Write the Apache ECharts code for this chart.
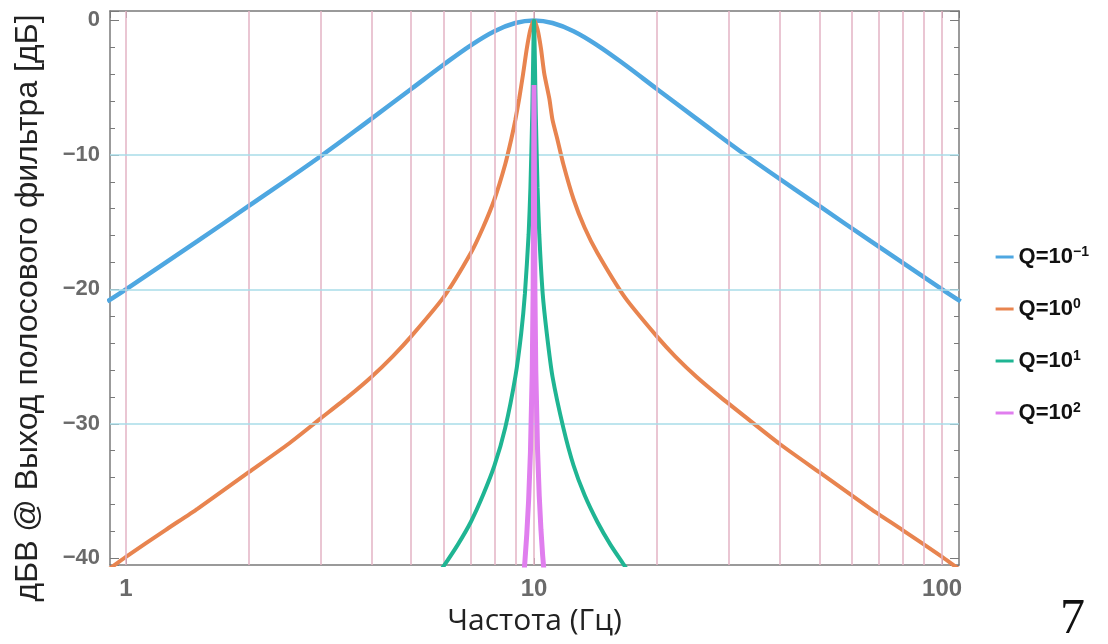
<!DOCTYPE html>
<html>
<head>
<meta charset="utf-8">
<script src="https://cdn.jsdelivr.net/npm/echarts@6/dist/echarts.min.js"></script>
<style>
  html, body { margin: 0; padding: 0; background: #fff; }
  #main { width: 1108px; height: 644px; }
</style>
</head>
<body>
<div id="main"></div>
<script>
// частоты и уровни
var blueF = [0.9, 1, 1.5, 2, 3, 4, 5, 6, 7, 8, 9, 10, 11.1, 12.5, 14.3, 16.7, 20, 25, 33.3, 50, 66.7, 100, 111];
var blueDb = [-20.9, -20.0, -16.4, -13.8, -10.1, -7.3, -5.1, -3.3, -1.85, -0.8, -0.19, 0, -0.19, -0.8, -1.85, -3.3, -5.1, -7.3, -10.1, -13.8, -16.4, -20.0, -20.9];

var orangeF = [0.9, 1, 1.25, 1.5, 2, 2.5, 3, 3.5, 4, 4.5, 5, 6, 7, 7.5, 8, 8.5, 8.8, 9, 9.2, 9.4, 9.6, 9.8, 10, 10.2, 10.4, 10.6, 10.9, 11.1, 11.4, 11.8, 12.5, 13.3, 14.3, 16.7, 20, 22.2, 25, 28.6, 33.3, 40, 50, 66.7, 80, 100, 111];
var orangeDb = [-40.9, -39.9, -37.9, -36.3, -33.6, -31.5, -29.6, -28.0, -26.5, -25.0, -23.5, -20.6, -17.3, -15.4, -13.3, -10.7, -8.8, -7.4, -5.8, -4.0, -2.1, -0.66, 0, -0.66, -2.1, -4.0, -5.8, -7.4, -8.8, -10.7, -13.3, -15.4, -17.3, -20.6, -23.5, -25.0, -26.5, -28.0, -29.6, -31.5, -33.6, -36.3, -37.9, -39.9, -40.9];

var greenF = [5.8, 6, 6.5, 7, 7.5, 8, 8.5, 9, 9.3, 9.5, 9.7, 9.8, 9.9, 10, 10.1, 10.2, 10.3, 10.5, 10.75, 11.1, 11.8, 12.5, 13.3, 14.3, 15.4, 16.7, 17.2];
var greenDb = [-41.2, -40.6, -39.0, -37.3, -35.3, -33.1, -30.3, -26.5, -23.3, -20.3, -15.9, -12.4, -7.0, 0, -7.0, -12.4, -15.9, -20.3, -23.3, -26.5, -30.3, -33.1, -35.3, -37.3, -39.0, -40.6, -41.2];

var violetF = [9.45, 9.5, 9.6, 9.7, 9.8, 9.9, 9.95, 10, 10.05, 10.1, 10.2, 10.3, 10.4, 10.5, 10.6];
var violetDb = [-41.1, -40.2, -38.2, -35.7, -32.1, -26.1, -20.0, -4.8, -20.0, -26.0, -31.9, -35.4, -37.9, -39.8, -41.3];

var seriesNames = ['Q=10^-1', 'Q=10^0', 'Q=10^1', 'Q=10^2'];
var gridFreqs = [1, 2, 3, 4, 5, 6, 7, 8, 9, 10, 20, 30, 40, 50, 60, 70, 80, 90, 100];
var gridLevels = [-10, -20, -30];
var xLabels = [1, 10, 100];

function pairs(xs, ys) {
  var out = [];
  for (var i = 0; i < xs.length; i++) out.push([xs[i], ys[i]]);
  return out;
}

var myChart = echarts.init(document.getElementById('main'));

var frame = { show: true, onZero: false, lineStyle: { color: '#7a7a7a', width: 1.5 } };
var tickStyle = { color: '#7a7a7a' };

var option = {
  animation: false,
  backgroundColor: '#fff',
  grid: { left: 110, top: 11, right: 149, bottom: 79 },
  legend: {
    orient: 'vertical',
    right: 14,
    top: 240,
    itemGap: 28,
    itemWidth: 18,
    itemHeight: 3,
    icon: 'rect',
    data: seriesNames,
    formatter: function (name) {
      var p = name.split('^');
      return '{b|' + p[0] + '}{s|' + p[1].replace('-', '\u2212') + '}';
    },
    textStyle: {
      rich: {
        b: { fontFamily: 'Liberation Sans', fontWeight: 'bold', fontSize: 22, color: '#111', lineHeight: 24 },
        s: { fontFamily: 'Liberation Sans', fontWeight: 'bold', fontSize: 14, color: '#111', verticalAlign: 'top', lineHeight: 24, padding: [0, 0, 10, 0] }
      }
    }
  },
  xAxis: [{
    type: 'log',
    min: 0.914,
    max: 110,
    name: 'Частота (Гц)',
    nameLocation: 'middle',
    nameGap: 41,
    nameTextStyle: { fontFamily: 'Open Sans', fontSize: 30, color: '#222' },
    axisLine: frame,
    axisTick: { show: true, inside: true, length: 7, lineStyle: tickStyle },
    splitLine: { show: false },
    axisLabel: {
      showMinLabel: false,
      showMaxLabel: false,
      margin: 12,
      fontFamily: 'Liberation Sans',
      fontWeight: 'bold',
      fontSize: 24,
      color: '#6a6a6a',
      formatter: function (v) {
        for (var i = 0; i < xLabels.length; i++) {
          if (Math.abs(v - xLabels[i]) < 1e-6 * xLabels[i]) return String(xLabels[i]);
        }
        return '';
      }
    }
  }, {
    type: 'log',
    position: 'top',
    min: 0.914,
    max: 110,
    axisLine: frame,
    axisTick: { show: true, inside: true, length: 7, lineStyle: tickStyle },
    axisLabel: { show: false },
    splitLine: { show: false }
  }],
  yAxis: [{
    type: 'value',
    min: -40.5,
    max: 0.7,
    name: 'дБВ @ Выход полосового фильтра [дБ]',
    nameLocation: 'middle',
    nameGap: 66,
    nameTextStyle: { fontFamily: 'Liberation Sans', fontSize: 32, color: '#222', padding: [0, 40, 0, 0] },
    axisLine: frame,
    axisTick: { show: true, inside: true, length: 9, lineStyle: tickStyle },
    minorTick: { show: true, splitNumber: 5, length: 5, lineStyle: tickStyle },
    splitLine: { show: false },
    axisLabel: {
      showMinLabel: false,
      showMaxLabel: false,
      margin: 10,
      fontFamily: 'Liberation Sans',
      fontWeight: 'bold',
      fontSize: 22,
      color: '#6a6a6a',
      formatter: function (v) {
        if (Math.abs(v % 10) > 1e-6) return '';
        return v === 0 ? '0' : '\u2212' + Math.abs(v);
      }
    }
  }, {
    type: 'value',
    position: 'right',
    min: -40.5,
    max: 0.7,
    axisLine: frame,
    axisTick: { show: true, inside: true, length: 9, lineStyle: tickStyle },
    minorTick: { show: true, splitNumber: 5, length: 5, lineStyle: tickStyle },
    axisLabel: { show: false },
    splitLine: { show: false }
  }],
  series: [{
    type: 'line',
    name: 'grid',
    data: [],
    z: 1,
    silent: true,
    markLine: {
      silent: true,
      symbol: 'none',
      label: { show: false },
      data: gridFreqs.map(function (f) {
        return { xAxis: f, lineStyle: { color: '#e3b3c4', width: 1.5, type: 'solid' } };
      }).concat(gridLevels.map(function (l) {
        return { yAxis: l, lineStyle: { color: '#a9dde8', width: 1.5, type: 'solid' } };
      }))
    }
  }, {
    type: 'line',
    name: seriesNames[0],
    data: pairs(blueF, blueDb),
    smooth: 0.4,
    showSymbol: false,
    color: '#4ea7e1',
    lineStyle: { width: 4.5 },
    z: 3
  }, {
    type: 'line',
    name: seriesNames[1],
    data: pairs(orangeF, orangeDb),
    smooth: 0.2,
    showSymbol: false,
    color: '#e8844f',
    lineStyle: { width: 4 },
    z: 4
  }, {
    type: 'line',
    name: seriesNames[2],
    data: pairs(greenF, greenDb),
    smooth: 0.2,
    showSymbol: false,
    color: '#1fb593',
    lineStyle: { width: 4 },
    z: 5
  }, {
    type: 'line',
    name: seriesNames[3],
    data: pairs(violetF, violetDb),
    smooth: false,
    showSymbol: false,
    color: '#e07eee',
    lineStyle: { width: 5 },
    z: 6
  }],
  graphic: [{
    type: 'text',
    left: 1060,
    top: 595,
    style: { text: '7', fontFamily: 'Liberation Serif', fontSize: 50, fill: '#111' }
  }]
};

myChart.setOption(option);
</script>
</body>
</html>
